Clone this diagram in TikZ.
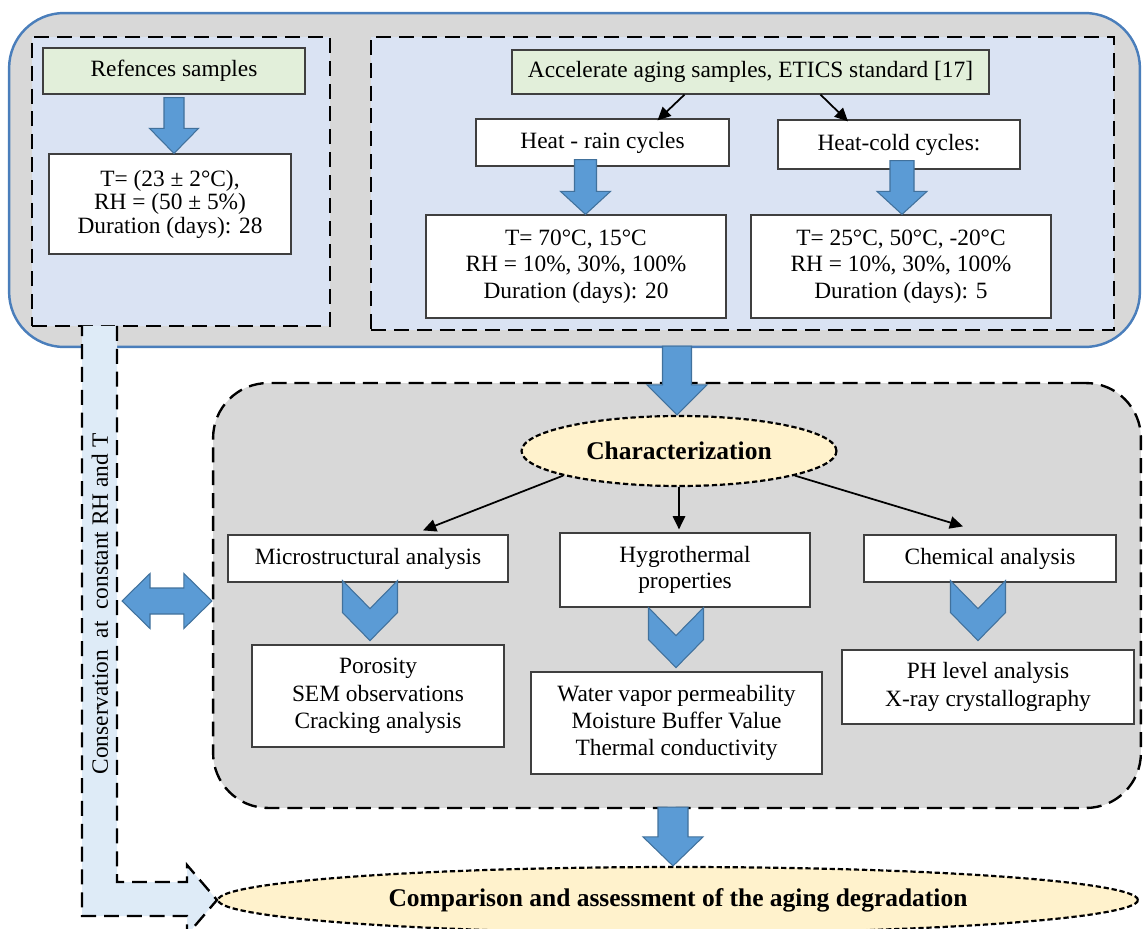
\documentclass[tikz,border=0pt]{standalone}
\usepackage{fontspec}
\setmainfont{Liberation Serif}
\usetikzlibrary{arrows.meta,shapes.geometric,calc}
\definecolor{PanelGray}{HTML}{D8D8D8}
\definecolor{PanelBlue}{HTML}{DAE3F3}
\definecolor{OuterEdge}{HTML}{4A7EBB}
\definecolor{SampleGreen}{HTML}{E2EFDA}
\definecolor{OvalYellow}{HTML}{FFF2CC}
\definecolor{BandBlue}{HTML}{DEEBF7}
\definecolor{ArrowFill}{HTML}{5B9BD5}
\definecolor{ArrowEdge}{HTML}{41719C}
\definecolor{BoxEdge}{HTML}{3F3F3F}

% block arrow pointing down: start, target, half shaft, half head, head length
\newcommand{\blkdown}[5]{%
  \filldraw[blk] ($(#1)+(-#3,0)$) -- ($(#1|-#2)+(-#3,-#5)$) -- ($(#1|-#2)+(-#4,-#5)$)
    -- (#1|-#2) -- ($(#1|-#2)+(#4,-#5)$) -- ($(#1|-#2)+(#3,-#5)$) -- ($(#1)+(#3,0)$) -- cycle;}
% chevron pointing down: top, total height
\newcommand{\chevdown}[2]{%
  \filldraw[blk] ($(#1)+(-27.5,0)$) -- ($(#1)+(0,28)$) -- ($(#1)+(27.5,0)$)
    -- ($(#1)+(27.5,#2-28)$) -- ($(#1)+(0,#2)$) -- ($(#1)+(-27.5,#2-28)$) -- cycle;}

\begin{document}
\begin{tikzpicture}[x=0.02cm, y=-0.02cm,
  txt/.style={font=\fontsize{13.3}{15}\selectfont, align=center},
  box/.style={txt, draw=BoxEdge, line width=0.7pt, fill=white, inner sep=2pt},
  greenbox/.style={box, fill=SampleGreen},
  panel/.style={draw=black, line width=1.35pt, dash pattern=on 8.5pt off 4.5pt},
  oval/.style={ellipse, draw=black, line width=1.25pt, dash pattern=on 3pt off 1.6pt,
               fill=OvalYellow, inner sep=0pt, font=\fontsize{14.5}{16}\selectfont\bfseries},
  blk/.style={fill=ArrowFill, draw=ArrowEdge, line width=0.6pt},
  arr/.style={-{Triangle[length=7.5pt,width=7pt]}, line width=1pt}
]
  \useasboundingbox (0,0) rectangle (1143,929);

  % preparation of samples
  \node[draw=OuterEdge, line width=1.4pt, fill=PanelGray, rounded corners=1.1cm,
        minimum width=22.62cm, minimum height=6.68cm] (prep) at (574.5,180) {};
  \node[panel, fill=PanelBlue, minimum width=5.96cm, minimum height=5.78cm] (refpanel) at (181,181.5) {};
  \node[panel, fill=PanelBlue, minimum width=14.86cm, minimum height=5.86cm] (agepanel) at (742.5,183.5) {};

  \node[greenbox, minimum width=5.24cm, minimum height=0.92cm] (refs) at (174,71) {Refences samples};
  \node[box, font=\fontsize{13.3}{13.4}\selectfont, minimum width=4.84cm, minimum height=2cm] (refc) at (170,204)
    {T= (23 ± 2°C),\\RH = (50 ± 5\%)\\Duration (days): 28};

  \node[greenbox, minimum width=9.54cm, minimum height=0.88cm] (acc) at (750.5,72)
    {Accelerate aging samples, ETICS standard [17]};
  \node[box, minimum width=5.06cm, minimum height=0.94cm] (hr) at (602.5,142.5) {Heat - rain cycles};
  \node[box, minimum width=4.84cm, minimum height=0.98cm] (hc) at (899,144.5) {Heat-cold cycles:};
  \node[box, minimum width=6cm, minimum height=2.06cm] (t70) at (576,266.5)
    {T= 70°C, 15°C\\RH = 10\%, 30\%, 100\%\\Duration (days): 20};
  \node[box, minimum width=6cm, minimum height=2.06cm] (t25) at (901,266.5)
    {T= 25°C, 50°C, -20°C\\RH = 10\%, 30\%, 100\%\\Duration (days): 5};

  \draw[arr] ($(acc.south)+(-66,0)$) -- ($(hr.north)+(55,2)$);
  \draw[arr] ($(acc.south)+(70,0)$) -- ($(hc.north)+(-51,2)$);

  \coordinate (refa) at ($(refs.south)+(0,3)$);
  \coordinate (hra) at ($(hr.south)+(-17,-7)$);
  \coordinate (hca) at ($(hc.south)+(3,-9)$);
  \blkdown{refa}{refc.north}{10}{24.5}{25}
  \blkdown{hra}{t70.north}{11}{25}{23}
  \blkdown{hca}{t25.north}{12}{25}{23}

  % characterization
  \node[panel, fill=PanelGray, rounded corners=1.1cm,
        minimum width=18.56cm, minimum height=8.5cm] (charpanel) at (677,595.5) {};
  \node[oval, minimum width=6.3cm, minimum height=1.4cm] (char) at (679,451) {Characterization};

  \node[box, minimum width=5.6cm, minimum height=0.94cm] (micro) at (368,558.5) {Microstructural analysis};
  \node[box, minimum width=5cm, minimum height=1.48cm] (hygro) at (685,570) {Hygrothermal\\properties};
  \node[box, minimum width=5.04cm, minimum height=0.94cm] (chem) at (990,558.5) {Chemical analysis};

  \node[box, font=\fontsize{13.3}{15.6}\selectfont, minimum width=5.04cm, minimum height=2.04cm] (poro) at (378,696)
    {Porosity\\SEM observations\\Cracking analysis};
  \node[box, font=\fontsize{13.3}{15.6}\selectfont, minimum width=5.82cm, minimum height=2.04cm] (wvp) at (676.5,723)
    {Water vapor permeability\\Moisture Buffer Value\\Thermal conductivity};
  \node[box, font=\fontsize{13.3}{15.6}\selectfont, minimum width=5.84cm, minimum height=1.48cm] (ph) at (988,687)
    {PH level analysis\\X-ray crystallography};

  \draw[arr] (char.192) -- ($(micro.north)+(55,-4)$);
  \draw[arr] (char.south) -- ($(char.south |- hygro.north)+(0,-3)$);
  \draw[arr] (char.-12) -- ($(chem.north)+(-27,-8)$);

  \chevdown{$(micro.south)+(2,-2)$}{60}
  \chevdown{$(hygro.south)+(-9,0)$}{60}
  \chevdown{$(chem.south)+(-12,-2)$}{60}

  \coordinate (prepa) at ($(prep.south -| char.north)+(-2,-2)$);
  \blkdown{prepa}{char.north}{14.5}{30}{30}

  % comparison
  \node[oval, minimum width=18.4cm, minimum height=1.32cm] (comp) at (678,900)
    {Comparison and assessment of the aging degradation};
  \coordinate (chara) at ($(charpanel.south)+(-4,-2)$);
  \blkdown{chara}{comp.north}{15}{30}{29}

  % conservation band
  \fill[BandBlue] (82,326) -- (117,326) -- (117,882) -- (187,882) -- (187,865) -- (comp.west)
    -- (187,935) -- (187,916) -- (82,916) -- cycle;
  \draw[panel] (117,326) -- (117,882) -- (187,882) -- (187,865) -- (comp.west)
    -- (187,935) -- (187,916) -- (82,916) -- (82,326);
  \node[txt, rotate=90] (cons) at (100,604) {Conservation \ at \ constant RH and T};

  \coordinate (dl) at (122,601);
  \coordinate (dr) at (dl -| charpanel.west);
  \filldraw[blk] (dl) -- ++(28,-27.5) -- ++(0,14.5) -- ($(dr)+(-28,-13)$) -- ++(0,-14.5) -- (dr)
    -- ++(-28,27.5) -- ++(0,-14.5) -- ($(dl)+(28,13)$) -- ++(0,14.5) -- cycle;
\end{tikzpicture}
\end{document}
